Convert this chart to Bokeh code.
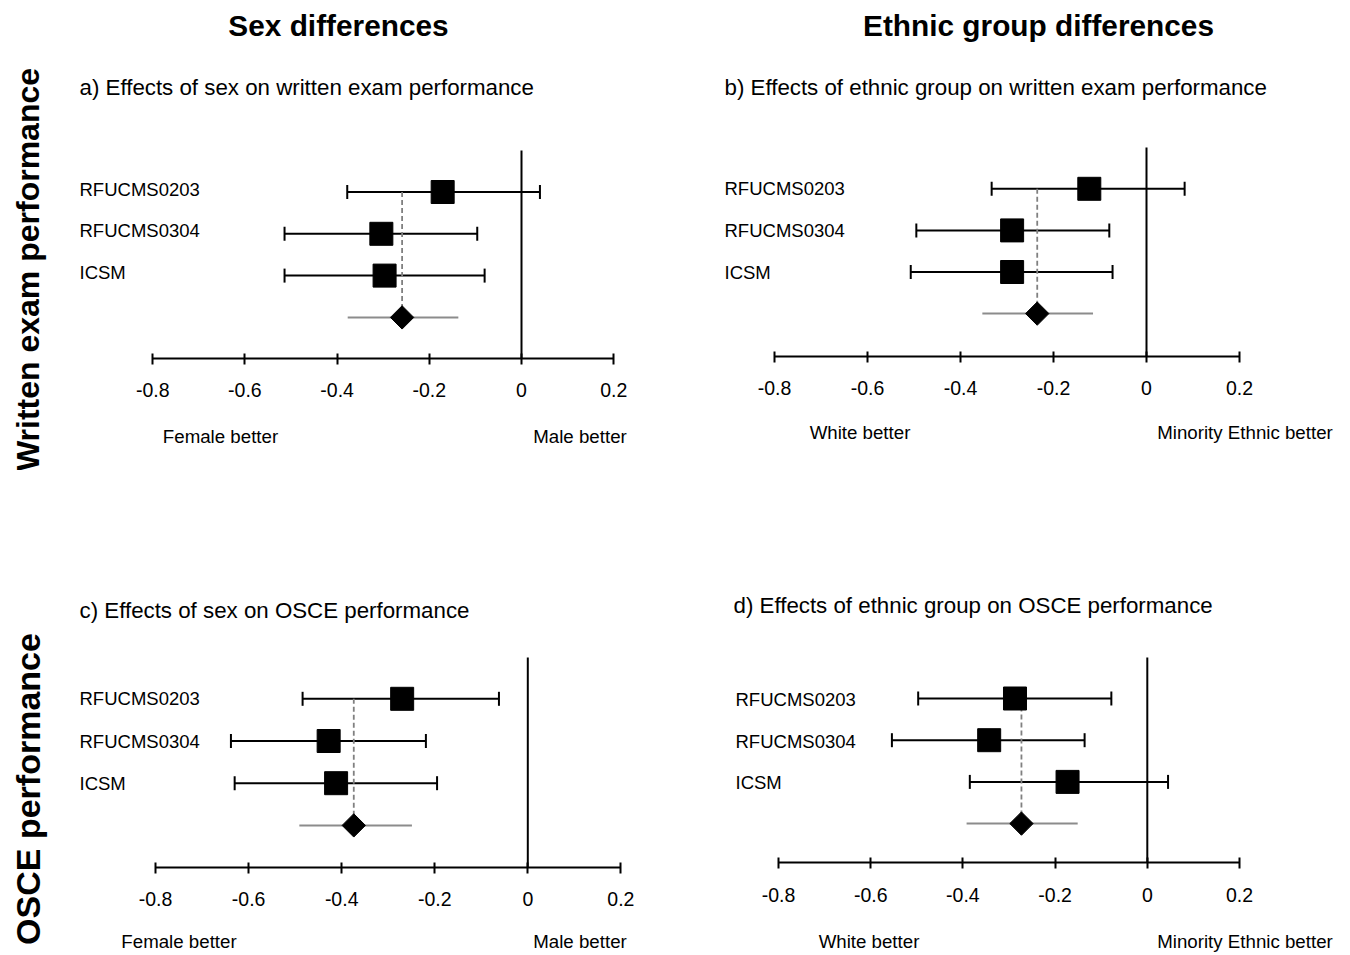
import numpy as np
from bokeh.plotting import figure
from bokeh.layouts import column, row
from bokeh.models import Range1d, FixedTicker
from bokeh.core.properties import value
from bokeh.embed import file_html
from bokeh.resources import INLINE

# ---------------- data ----------------
studies = ["RFUCMS0203", "RFUCMS0304", "ICSM"]
tick_values = [-0.8, -0.6, -0.4, -0.2, 0.0, 0.2]
tick_labels = ["-0.8", "-0.6", "-0.4", "-0.2", "0", "0.2"]

# a) sex, written exam
sex_written_est = [-0.171, -0.304, -0.297]
sex_written_lo = [-0.378, -0.514, -0.514]
sex_written_hi = [0.040, -0.096, -0.080]
sex_written_pooled = [-0.259, -0.377, -0.137]   # estimate, low, high

# b) ethnic group, written exam
eth_written_est = [-0.123, -0.289, -0.289]
eth_written_lo = [-0.333, -0.495, -0.507]
eth_written_hi = [0.082, -0.080, -0.073]
eth_written_pooled = [-0.235, -0.353, -0.115]

# c) sex, OSCE
sex_osce_est = [-0.270, -0.428, -0.412]
sex_osce_lo = [-0.484, -0.638, -0.630]
sex_osce_hi = [-0.062, -0.219, -0.195]
sex_osce_pooled = [-0.374, -0.491, -0.249]

# d) ethnic group, OSCE
eth_osce_est = [-0.287, -0.343, -0.173]
eth_osce_lo = [-0.497, -0.554, -0.385]
eth_osce_hi = [-0.078, -0.136, 0.045]
eth_osce_pooled = [-0.273, -0.392, -0.151]

col_titles = ["Sex differences", "Ethnic group differences"]
row_titles = ["Written exam performance", "OSCE performance"]
subtitles = ["a) Effects of sex on written exam performance",
             "b) Effects of ethnic group on written exam performance",
             "c) Effects of sex on OSCE performance",
             "d) Effects of ethnic group on OSCE performance"]
sex_notes = ["Female better", "Male better"]
eth_notes = ["White better", "Minority Ethnic better"]

FONT = "Liberation Sans"

# ---------------- layout constants (picture px) ----------------
TOP_H = 470
BOT_H = 482
COL_W = 667

PANELS = [
    dict(cell=(0, 0, COL_W, TOP_H), x0=521.0, xs=461.0, r0=191.5, rs=41.8, axis=357.5, vtop=150,
         sub=(79, 87), lab_x=79, lab_dy=-3, notes_xy=((220, 436), (579.5, 436))),
    dict(cell=(COL_W, 0, COL_W, TOP_H), x0=1146.0, xs=465.0, r0=188.3, rs=41.6, axis=355.5, vtop=147,
         sub=(724, 87), lab_x=724, lab_dy=0, notes_xy=((859.5, 432), (1244.5, 432))),
    dict(cell=(0, TOP_H, COL_W, BOT_H), x0=527.3, xs=465.3, r0=698.3, rs=42.2, axis=866.5, vtop=657,
         sub=(79, 610), lab_x=79, lab_dy=0, notes_xy=((178.5, 941), (579.5, 941))),
    dict(cell=(COL_W, TOP_H, COL_W, BOT_H), x0=1146.8, xs=461.0, r0=698.0, rs=41.7, axis=862, vtop=657,
         sub=(733, 605), lab_x=735, lab_dy=1, notes_xy=((868.5, 941), (1244.5, 941))),
]

DATA = [
    (sex_written_est, sex_written_lo, sex_written_hi, sex_written_pooled, sex_notes),
    (eth_written_est, eth_written_lo, eth_written_hi, eth_written_pooled, eth_notes),
    (sex_osce_est, sex_osce_lo, sex_osce_hi, sex_osce_pooled, sex_notes),
    (eth_osce_est, eth_osce_lo, eth_osce_hi, eth_osce_pooled, eth_notes),
]


def make_panel(i):
    L = PANELS[i]
    est, lo, hi, pooled, notes = DATA[i]
    cl, ct, W, H = L["cell"]
    x0, xs, r0, rs = L["x0"], L["xs"], L["r0"], L["rs"]

    def dx(sx):
        return (sx - x0) / xs

    def dy(sy):
        return (sy - r0) / rs

    p = figure(width=W, height=H,
               x_range=Range1d(dx(cl), dx(cl + W)),
               y_range=Range1d(dy(ct + H), dy(ct)),
               output_backend="svg", toolbar_location=None,
               min_border=0, min_border_left=0, min_border_right=0,
               min_border_top=0, min_border_bottom=0,
               y_axis_location=None, outline_line_color=None,
               background_fill_color="white", border_fill_color="white")
    p.xgrid.visible = False
    p.ygrid.visible = False

    rows_y = np.arange(len(studies), dtype=float)
    pooled_y = float(len(studies))
    axis_r = dy(L["axis"])

    # zero line
    p.segment(x0=[0], y0=[dy(L["vtop"])], x1=[0], y1=[axis_r], line_color="black", line_width=2)

    # confidence intervals
    p.segment(x0=lo, y0=rows_y, x1=hi, y1=rows_y, line_color="black", line_width=2)
    p.scatter(x=list(lo) + list(hi), y=list(rows_y) + list(rows_y), marker="dash",
              angle=np.pi / 2, size=14, line_color="black", line_width=2)

    # dashed pooled reference
    p.segment(x0=[pooled[0]], y0=[rows_y[0]], x1=[pooled[0]], y1=[pooled_y],
              line_color="#808080", line_width=1.8, line_dash="5 3")

    # study squares
    p.scatter(x=est, y=rows_y, marker="square", size=23, fill_color="black", line_color="black")

    # pooled
    p.segment(x0=[pooled[1]], y0=[pooled_y], x1=[pooled[2]], y1=[pooled_y],
              line_color="#8c8c8c", line_width=2)
    p.scatter(x=[pooled[0]], y=[pooled_y], marker="square", angle=np.pi / 4, size=16.5,
              fill_color="black", line_color="black")

    # study labels
    p.text(x=[dx(L["lab_x"])] * len(studies), y=list(rows_y + L["lab_dy"] / rs), text=studies,
           text_font=value(FONT), text_font_size="18.5px", text_align="left",
           text_baseline="middle", text_color="black")

    # subtitle
    p.text(x=[dx(L["sub"][0])], y=[dy(L["sub"][1])], text=[subtitles[i]],
           text_font=value(FONT), text_font_size="22.3px", text_align="left",
           text_baseline="middle", text_color="black")

    # direction notes
    for (nx, ny), t in zip(L["notes_xy"], notes):
        p.text(x=[dx(nx)], y=[dy(ny)], text=[t], text_font=value(FONT), text_font_size="18.7px",
               text_align="center", text_baseline="middle", text_color="black")

    # column titles
    if i in (0, 1):
        cx = 338 if i == 0 else 1038
        p.text(x=[dx(cx)], y=[dy(25)], text=[col_titles[i]], text_font=value(FONT),
               text_font_size="29.8px", text_font_style="bold", text_align="center",
               text_baseline="middle", text_color="black")
    # row titles
    if i in (0, 2):
        cy = 269 if i == 0 else 788.5
        fs = "32px" if i == 0 else "34px"
        p.text(x=[dx(27)], y=[dy(cy)], text=[row_titles[i // 2]], text_font=value(FONT),
               text_font_size=fs, text_font_style="bold", text_align="center",
               text_baseline="middle", angle=np.pi / 2, text_color="black")

    ax = p.xaxis[0]
    ax.fixed_location = axis_r
    ax.bounds = (-0.8, 0.2)
    ax.ticker = FixedTicker(ticks=tick_values, minor_ticks=[])
    ax.major_label_overrides = dict(zip(tick_values, tick_labels))
    ax.axis_line_color = "black"
    ax.axis_line_width = 2
    ax.major_tick_line_color = "black"
    ax.major_tick_line_width = 2
    ax.major_tick_in = 5
    ax.major_tick_out = 6
    ax.minor_tick_line_color = None
    ax.major_label_standoff = 19
    ax.major_label_text_font = FONT
    ax.major_label_text_font_size = "19.5px"
    ax.major_label_text_color = "black"
    return p


figs = [make_panel(i) for i in range(4)]
layout = column(row(figs[0], figs[1]), row(figs[2], figs[3]))

open("out.html", "w").write(file_html(layout, INLINE))
